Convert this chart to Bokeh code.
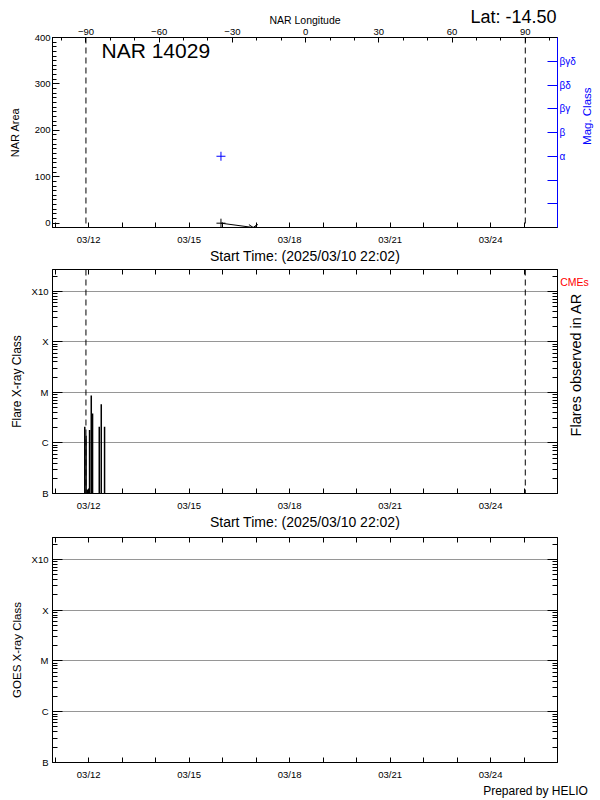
import numpy as np
import pandas as pd
from bokeh.plotting import figure
from bokeh.layouts import column, row
from bokeh.models import Range1d, LinearAxis, FixedTicker, Label, Span, ColumnDataSource
from bokeh.embed import file_html
from bokeh.resources import INLINE

# ---------------- data ----------------
start_time = "2025-03-10 22:02"
end_time = "2025-03-26 00:00"
day_ticks = ["2025-03-11", "2025-03-12", "2025-03-13", "2025-03-14", "2025-03-15",
             "2025-03-16", "2025-03-17", "2025-03-18", "2025-03-19", "2025-03-20",
             "2025-03-21", "2025-03-22", "2025-03-23", "2025-03-24", "2025-03-25"]
labelled_days = ["2025-03-12", "2025-03-15", "2025-03-18", "2025-03-21", "2025-03-24"]
date_tick_labels = ["03/12", "03/15", "03/18", "03/21", "03/24"]

noaa_number = "14029"
latitude_text = "-14.50"

lon_ticks = [-90, -60, -30, 0, 30, 60, 90]
lon_minor_ticks = [-100, -80, -70, -50, -40, -20, -10, 10, 20, 40, 50, 70, 80, 100]
lon_limits = [-103.7, 103.2]
limb_lons = [-90, 90]

area_ticks = [0, 100, 200, 300, 400]
area_minor_ticks = list(range(0, 401, 10))
area_limits = [-9.3, 400]
area_times = ["2025-03-15 22:47", "2025-03-16 21:55"]
area_values = [0, -9.3]

mag_ticks = [1, 2, 3, 4, 5, 6, 7]
mag_tick_labels = ["", "", "α", "β", "βγ", "βδ", "βγδ"]
mag_limits = [0, 8]
mag_times = ["2025-03-15 22:47"]
mag_values = [3]

flare_times = ["2025-03-11 21:10", "2025-03-11 22:06", "2025-03-11 22:57",
               "2025-03-12 00:36", "2025-03-12 01:49", "2025-03-12 02:45",
               "2025-03-12 07:33", "2025-03-12 08:59", "2025-03-12 11:21"]
flare_classes = ["C2.1", "C1.4", "B1.2", "C1.8", "C8.7", "C3.8", "C2.1", "C5.8", "C2.1"]

goes_ticks = [-7, -6, -5, -4, -3]
goes_tick_labels = ["B", "C", "M", "X", "X10"]
goes_grid = [-6, -5, -4, -3]
goes_limits = [-7, -2.57]

# ---------------- helpers ----------------
FONT = "Liberation Sans"
W = 600
FL, FR = 52, 557  # frame left/right in page px


def to_ms(s):
    return pd.Timestamp(s).value / 1e6


def class_to_log(c):
    base = {"A": -8, "B": -7, "C": -6, "M": -5, "X": -4}[c[0]]
    return base + np.log10(float(c[1:]))


t0, t1 = to_ms(start_time), to_ms(end_time)
day_ms = [to_ms(d) for d in day_ticks]
lab_map = dict(zip(labelled_days, date_tick_labels))
date_overrides = {to_ms(d): lab_map.get(d, "") for d in day_ticks}
blank_date_overrides = {to_ms(d): "" for d in day_ticks}

goes_minor = [d + np.log10(k) for d in range(-7, -2) for k in range(2, 10)
              if d + np.log10(k) <= goes_limits[1]]

start_label = "Start Time: (" + pd.Timestamp(start_time).strftime("%Y/%m/%d %H:%M") + ")"


def px2x(px):
    return t0 + (px - FL) / (FR - FL) * (t1 - t0)


def py2y(py, top, bottom, lim):
    return lim[0] + (bottom - py) / (bottom - top) * (lim[1] - lim[0])


def style(ax, major_in, minor_in, color="black", size="9.5px", standoff=3):
    ax.major_tick_in = major_in
    ax.major_tick_out = 0
    ax.minor_tick_in = minor_in
    ax.minor_tick_out = 0
    ax.axis_line_color = color
    ax.major_tick_line_color = color
    ax.minor_tick_line_color = color
    ax.major_label_text_color = color
    ax.major_label_text_font = FONT
    ax.major_label_text_font_size = size
    ax.major_label_standoff = standoff
    ax.axis_label_text_font = FONT
    ax.axis_label_text_font_style = "normal"
    ax.axis_label_text_color = color


def text_axis(ax, tick, text, color, size, standoff):
    """An axis without line or tick marks that only carries one text."""
    ax.ticker = FixedTicker(ticks=[tick], minor_ticks=[])
    ax.major_label_overrides = {tick: text}
    style(ax, 0, 0, color=color, size=size, standoff=standoff)
    ax.axis_line_color = None
    ax.major_tick_line_color = None
    ax.minor_tick_line_color = None


def date_axis(ax, labels=True):
    ax.ticker = FixedTicker(ticks=day_ms, minor_ticks=[])
    if labels:
        ax.major_label_overrides = date_overrides
        style(ax, 5, 0, standoff=6)
    else:
        ax.major_label_overrides = blank_date_overrides
        style(ax, 5, 0, size="0px", standoff=0)


def make_fig(width, height, top, bottom, ylim, extra_y=None):
    p = figure(width=width, height=height, x_range=Range1d(t0, t1), y_range=Range1d(*ylim),
               output_backend="svg", toolbar_location=None,
               min_border_left=FL, min_border_right=width - FR,
               min_border_top=top, min_border_bottom=bottom)
    p.extra_x_ranges = {"lon": Range1d(*lon_limits)}
    if extra_y:
        p.extra_y_ranges = extra_y
    p.outline_line_color = "black"
    p.background_fill_color = "white"
    p.border_fill_color = "white"
    p.xgrid.visible = False
    p.ygrid.visible = False
    return p


def side_fig(width, height):
    """A narrow strip to the right of a panel that only holds texts (pixel ranges)."""
    f = figure(width=width, height=height, x_range=Range1d(0, width), y_range=Range1d(0, height),
               x_axis_type=None, y_axis_type=None, toolbar_location=None,
               output_backend="svg", min_border=0)
    f.outline_line_color = None
    f.background_fill_color = "white"
    f.border_fill_color = "white"
    f.grid.visible = False
    return f


def vlabel(f, x, y, text, size, color):
    f.add_layout(Label(x=x, y=y, text=text, angle=np.pi / 2, text_align="center",
                       text_baseline="middle", text_font=FONT, text_font_size=size,
                       text_color=color))


H1, H2, H3 = 268, 266, 266

# ---------------- panel 1: NAR area / magnetic class ----------------
P1_TOP, P1_BOT = 37, 227
W1 = 580
p1 = make_fig(W1, H1, 37, H1 - P1_BOT, area_limits, extra_y={"mag": Range1d(*mag_limits)})

ax = p1.xaxis[0]
date_axis(ax, True)
ax.axis_label = start_label
ax.axis_label_text_font_size = "14px"
ax.axis_label_standoff = 0

ay = p1.yaxis[0]
ay.ticker = FixedTicker(ticks=area_ticks, minor_ticks=area_minor_ticks)
style(ay, 7, 4, standoff=2)
ay.axis_label = "NAR Area"
ay.axis_label_text_font_size = "11px"
ay.axis_label_standoff = 11

lon_ax = LinearAxis(x_range_name="lon", ticker=FixedTicker(ticks=lon_ticks, minor_ticks=lon_minor_ticks))
style(lon_ax, 5, 3, standoff=3)
lon_ax.axis_label = "NAR Longitude"
lon_ax.axis_label_text_font_size = "10.5px"
lon_ax.axis_label_standoff = 0
p1.add_layout(lon_ax, "above")

lat_ax = LinearAxis()
text_axis(lat_ax, px2x(513), "Lat: " + latitude_text, "black", "18px", -16)
p1.add_layout(lat_ax, "above")

mag_ax = LinearAxis(y_range_name="mag", ticker=FixedTicker(ticks=mag_ticks, minor_ticks=[]))
mag_ax.major_label_overrides = dict(zip(mag_ticks, mag_tick_labels))
style(mag_ax, 10, 0, color="#0000ff", size="10px", standoff=2)
p1.add_layout(mag_ax, "right")

for lon in limb_lons:
    p1.add_layout(Span(location=lon, dimension="height", x_range_name="lon",
                       line_color="black", line_width=1, line_dash="6 4"))

area_src = ColumnDataSource(dict(t=[to_ms(s) for s in area_times], v=area_values))
p1.line("t", "v", source=area_src, line_color="black", line_width=1)
p1.scatter(x=[area_src.data["t"][0]], y=[area_values[0]], marker="cross", size=9,
           line_color="black", line_width=1)
p1.scatter(x=[area_src.data["t"][-1]], y=[area_values[-1]], marker="y", size=10,
           line_color="black", line_width=1)
p1.scatter(x=[to_ms(s) for s in mag_times], y=mag_values, y_range_name="mag",
           marker="cross", size=9, line_color="#0000ff", line_width=1)

p1.add_layout(Label(x=px2x(101), y=py2y(50, P1_TOP, P1_BOT, area_limits),
                    text="NAR " + noaa_number, text_align="left", text_baseline="middle",
                    text_font=FONT, text_font_size="21px", text_color="black"))

s1 = side_fig(W - W1, H1)
vlabel(s1, 586 - W1, H1 - 111, "Mag. Class", "11.5px", "#0000ff")


# ---------------- GOES-class panels ----------------
def goes_axes(p, title, title_size, title_standoff):
    ay = p.yaxis[0]
    ay.ticker = FixedTicker(ticks=goes_ticks, minor_ticks=goes_minor)
    ay.major_label_overrides = dict(zip(goes_ticks, goes_tick_labels))
    style(ay, 10, 5, standoff=4)
    ay.axis_label = title
    ay.axis_label_text_font_size = title_size
    ay.axis_label_standoff = title_standoff
    ry = LinearAxis(ticker=FixedTicker(ticks=goes_ticks, minor_ticks=goes_minor))
    ry.major_label_overrides = {k: "" for k in goes_ticks}
    style(ry, 10, 5, size="0px", standoff=0)
    p.add_layout(ry, "right")
    top_ax = LinearAxis()
    date_axis(top_ax, False)
    p.add_layout(top_ax, "above")
    p.ygrid.visible = True
    p.ygrid.ticker = FixedTicker(ticks=goes_grid, minor_ticks=[])
    p.ygrid.grid_line_color = "#969696"
    p.ygrid.grid_line_width = 1


# panel 2: flares (page y from H1)
P2_TOP, P2_BOT = 269, 493
W2 = 559
p2 = make_fig(W2, H2, P2_TOP - H1, H1 + H2 - P2_BOT, goes_limits)
ax = p2.xaxis[0]
date_axis(ax, True)
ax.axis_label = start_label
ax.axis_label_text_font_size = "14px"
ax.axis_label_standoff = 0
goes_axes(p2, "Flare X-ray Class", "12px", 5)

for lon in limb_lons:
    p2.add_layout(Span(location=lon, dimension="height", x_range_name="lon",
                       line_color="black", line_width=1, line_dash="6 4"))

fl_t = [to_ms(s) for s in flare_times]
fl_src = ColumnDataSource(dict(t=fl_t, base=[goes_limits[0]] * len(fl_t),
                               top=[class_to_log(c) for c in flare_classes]))
p2.segment(x0="t", y0="base", x1="t", y1="top", source=fl_src, line_color="black", line_width=1.5)

s2 = side_fig(W - W2, H2)
s2.add_layout(Label(x=574 - W2, y=H2 - (283 - H1), text="CMEs", text_align="center",
                    text_baseline="middle", text_font=FONT, text_font_size="10.5px",
                    text_color="#ff0000"))
vlabel(s2, 575 - W2, H2 - (381 - H1), "Flares observed in AR", "14.5px", "black")

# panel 3: GOES (page y from H1 + H2)
P3_TOP, P3_BOT = 537, 763
p3 = make_fig(W, H3, P3_TOP - H1 - H2, H1 + H2 + H3 - P3_BOT, goes_limits)
ax = p3.xaxis[0]
date_axis(ax, True)
goes_axes(p3, "GOES X-ray Class", "11.5px", 6)
helio_ax = LinearAxis()
text_axis(helio_ax, px2x(535), "Prepared by HELIO", "black", "12px", 1)
p3.add_layout(helio_ax, "below")

layout = column(row(p1, s1, spacing=0), row(p2, s2, spacing=0), p3, spacing=0)
open("out.html", "w").write(file_html(layout, INLINE))
